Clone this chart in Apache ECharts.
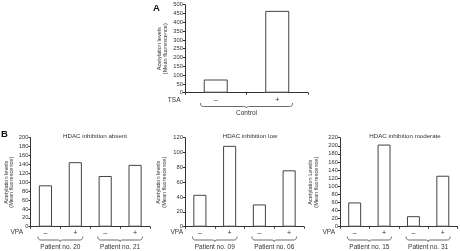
<!DOCTYPE html>
<html><head><meta charset="utf-8">
<script src="https://cdn.jsdelivr.net/npm/echarts@6/dist/echarts.min.js"></script>
<style>html,body{margin:0;padding:0;background:#fff}#c{width:460px;height:251px}</style>
</head><body><div id="c"></div>
<script>
// ---- data ----
const controlCats = ['–', '+'];
const controlValues = [75, 465];
const vpaCats = ['–', '+', '–', '+'];
const absentValues = [93, 145, 114, 139];
const lowValues = [43, 109, 30, 76];
const moderateValues = [60, 203, 26, 126];
const panelTitles = ['HDAC inhibition absent', 'HDAC inhibition low', 'HDAC inhibition moderate'];
const controlGroup = ['Control'];
const absentPatients = ['Patient no. 20', 'Patient no. 21'];
const lowPatients = ['Patient no. 09', 'Patient no. 06'];
const moderatePatients = ['Patient no. 15', 'Patient no. 31'];
const yNames = ['Acetylation levels\n(Mean fluorescence)', 'Acetylation levels\n(Mean fluorescence)',
                'Acetylation levels\n(Mean fluorescence)', 'Acetylation Levels\n(Mean fluorescence)'];
const yMax = [500, 200, 120, 220];
const yStep = [50, 20, 20, 20];

const FONT = 'Liberation Sans, Arial, sans-serif';
const TXT = '#333';
const LINE = '#333';

const grids = [
  {left: 185, top: 4.7, width: 123, height: 88},
  {left: 30.5, top: 137.7, width: 119.5, height: 89},
  {left: 185, top: 137.7, width: 119, height: 89},
  {left: 340, top: 137.7, width: 117.5, height: 89}
];
const nameGaps = [17, 15, 18, 21];
const catsList = [controlCats, vpaCats, vpaCats, vpaCats];
const valsList = [controlValues, absentValues, lowValues, moderateValues];
const labelMargins = [4, 2.5, 2.5, 2.5];

const xAxes = grids.map((g, i) => ({
  type: 'category', gridIndex: i, data: catsList[i],
  axisLine: {show: true, lineStyle: {color: LINE, width: 1}},
  axisTick: {show: true, length: 2, lineStyle: {color: LINE}},
  axisLabel: {fontSize: 7, color: TXT, fontFamily: FONT, margin: labelMargins[i]}
}));
const yAxes = grids.map((g, i) => ({
  type: 'value', gridIndex: i, min: 0, max: yMax[i], interval: yStep[i],
  name: yNames[i], nameLocation: 'middle', nameRotate: 90, nameGap: nameGaps[i],
  nameTextStyle: {fontSize: 5.6, lineHeight: 5.6, color: TXT, fontFamily: FONT},
  axisLine: {show: true, lineStyle: {color: LINE, width: 1}},
  axisTick: {show: true, length: 2, lineStyle: {color: LINE}},
  axisLabel: {fontSize: 5.8, color: TXT, fontFamily: FONT, margin: 2},
  splitLine: {show: false}
}));
const series = grids.map((g, i) => ({
  type: 'bar', xAxisIndex: i, yAxisIndex: i, data: valsList[i],
  barWidth: i === 0 ? '39%' : '44%',
  itemStyle: {color: '#fff', borderColor: '#444', borderWidth: 1},
  silent: true, animation: false
}));

const chart = echarts.init(document.getElementById('c'), null, {renderer: 'canvas'});
chart.setOption({
  animation: false,
  backgroundColor: '#fff',
  grid: grids,
  xAxis: xAxes,
  yAxis: yAxes,
  series: series,
  title: [
    {text: panelTitles[0], left: 90, top: 128.5, textAlign: 'center', textStyle: {fontSize: 6.2, fontWeight: 'normal', color: TXT, fontFamily: FONT}},
    {text: panelTitles[1], left: 245, top: 128.5, textAlign: 'center', textStyle: {fontSize: 6.2, fontWeight: 'normal', color: TXT, fontFamily: FONT}},
    {text: panelTitles[2], left: 400, top: 128.5, textAlign: 'center', textStyle: {fontSize: 6.2, fontWeight: 'normal', color: TXT, fontFamily: FONT}}
  ]
});

// annotations: braces and group labels placed via the axes' scales
function quad(pts, p0, c, p1) {
  for (let t = 1; t <= 6; t++) {
    const s = t / 6, u = 1 - s;
    pts.push([u * u * p0[0] + 2 * u * s * c[0] + s * s * p1[0], u * u * p0[1] + 2 * u * s * c[1] + s * s * p1[1]]);
  }
}
function bracePoints(x0, x1, yt, h) {
  const xm = (x0 + x1) / 2, ym = yt + h * 0.7, tip = yt + h, r = 3;
  const pts = [[x0, yt]];
  quad(pts, [x0, yt], [x0, ym], [x0 + r, ym]);
  pts.push([xm - r, ym]);
  quad(pts, [xm - r, ym], [xm, ym], [xm, tip]);
  quad(pts, [xm, tip], [xm, ym], [xm + r, ym]);
  pts.push([x1 - r, ym]);
  quad(pts, [x1 - r, ym], [x1, ym], [x1, yt]);
  return pts;
}
const groups = [
  {axis: 0, labels: controlGroup, braceTop: 103, textY: 113, frac: 0.25},
  {axis: 1, labels: absentPatients, braceTop: 236.5, textY: 247, frac: 0.25},
  {axis: 2, labels: lowPatients, braceTop: 236.5, textY: 247, frac: 0.25},
  {axis: 3, labels: moderatePatients, braceTop: 236.5, textY: 247, frac: 0.25}
];
const graphics = [];
groups.forEach(gp => {
  const catW = grids[gp.axis].width / catsList[gp.axis].length;
  gp.labels.forEach((lab, k) => {
    const c0 = chart.convertToPixel({xAxisIndex: gp.axis}, 2 * k);
    const c1 = chart.convertToPixel({xAxisIndex: gp.axis}, 2 * k + 1);
    const x0 = c0 - catW * gp.frac, x1 = c1 + catW * gp.frac;
    graphics.push({type: 'polyline', shape: {points: bracePoints(x0, x1, gp.braceTop, 5)},
      style: {fill: null, stroke: '#444', lineWidth: 0.8}, silent: true});
    graphics.push({type: 'text', x: (x0 + x1) / 2, y: gp.textY,
      style: {text: lab, fontSize: 6.5, fill: TXT, fontFamily: FONT, align: 'center', verticalAlign: 'middle'}});
  });
});
graphics.push({type: 'text', x: 156.5, y: 8, style: {text: 'A', fontSize: 9.5, fontWeight: 'bold', fill: '#111', fontFamily: FONT, align: 'center', verticalAlign: 'middle'}});
graphics.push({type: 'text', x: 4.5, y: 134.5, style: {text: 'B', fontSize: 9.5, fontWeight: 'bold', fill: '#111', fontFamily: FONT, align: 'center', verticalAlign: 'middle'}});
graphics.push({type: 'text', x: 180.5, y: 100, style: {text: 'TSA', fontSize: 6.5, fill: TXT, fontFamily: FONT, align: 'right', verticalAlign: 'middle'}});
graphics.push({type: 'text', x: 23, y: 232, style: {text: 'VPA', fontSize: 6.5, fill: TXT, fontFamily: FONT, align: 'right', verticalAlign: 'middle'}});
graphics.push({type: 'text', x: 183, y: 232, style: {text: 'VPA', fontSize: 6.5, fill: TXT, fontFamily: FONT, align: 'right', verticalAlign: 'middle'}});
graphics.push({type: 'text', x: 335, y: 232, style: {text: 'VPA', fontSize: 6.5, fill: TXT, fontFamily: FONT, align: 'right', verticalAlign: 'middle'}});
chart.setOption({graphic: graphics});
</script>
</body></html>
